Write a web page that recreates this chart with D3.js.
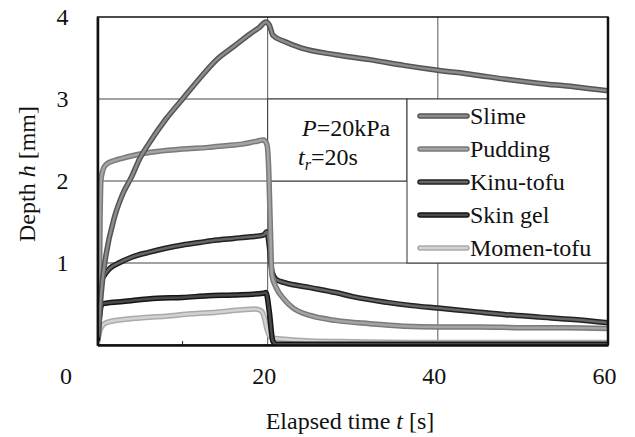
<!DOCTYPE html>
<html>
<head>
<meta charset="utf-8">
<script src="https://cdn.jsdelivr.net/npm/d3@7"></script>
<style>
  body { margin: 0; background: #fff; }
  svg text { font-family: "Liberation Serif", "Times New Roman", serif !important; fill: #111; }
</style>
</head>
<body>
<div id="chart"></div>
<script>
/* DATA */
const seriesNames = ['Slime', 'Pudding', 'Kinu-tofu', 'Skin gel', 'Momen-tofu'];
const xTicks = [0, 20, 40, 60];
const yTicks = [1, 2, 3, 4];

// [t (s), h (mm)]
const slime = [[0.1, 0.1], [0.3, 0.45], [0.6, 0.8], [1, 1.1], [2, 1.56], [3, 1.85], [4, 2.05], [5, 2.28],
  [6, 2.45], [8, 2.75], [10, 3.0], [12, 3.25], [14, 3.48], [16, 3.64], [18, 3.8], [19, 3.87], [19.8, 3.94],
  [20.2, 3.9], [20.6, 3.78], [22, 3.7], [24, 3.62], [28, 3.54], [32, 3.48], [36, 3.41], [40, 3.35],
  [44, 3.3], [48, 3.24], [52, 3.19], [56, 3.15], [60, 3.1]];
const pudding = [[0, 0.1], [0.2, 0.5], [0.3, 1.5], [0.4, 2.0], [0.6, 2.12], [1, 2.2], [2, 2.25], [3, 2.28],
  [5, 2.33], [7, 2.36], [10, 2.39], [13, 2.41], [15, 2.43], [17, 2.45], [18.5, 2.48], [19.5, 2.5],
  [19.9, 2.45], [20.1, 2.2], [20.3, 1.5], [20.5, 0.85], [21, 0.7], [22, 0.55], [23, 0.45], [25, 0.36],
  [28, 0.3], [32, 0.26], [36, 0.23], [40, 0.22], [45, 0.22], [50, 0.21], [55, 0.21], [60, 0.2]];
const kinuTofu = [[0, 0.1], [0.2, 0.5], [0.5, 0.78], [1, 0.88], [1.5, 0.94], [2.5, 1.0], [4, 1.07], [6, 1.13],
  [8, 1.18], [10, 1.22], [12, 1.25], [14, 1.28], [16, 1.3], [18, 1.32], [19.5, 1.34], [19.9, 1.38],
  [20.2, 1.2], [20.5, 0.9], [21, 0.8], [22, 0.76], [25, 0.7], [28, 0.64], [30, 0.59], [34, 0.52],
  [37, 0.48], [40, 0.45], [44, 0.41], [48, 0.37], [52, 0.34], [56, 0.31], [60, 0.27]];
const skinGel = [[0, 0.05], [0.2, 0.3], [0.5, 0.5], [1, 0.51], [3, 0.53], [7, 0.57], [10, 0.58], [13, 0.6],
  [16, 0.61], [19.5, 0.63], [19.8, 0.64], [20.2, 0.4], [20.6, 0.05], [21, 0.01], [60, 0.01]];
const momenTofu = [[0, 0.02], [0.2, 0.15], [0.6, 0.24], [1, 0.27], [3, 0.31], [5, 0.33], [8, 0.35],
  [11, 0.38], [14, 0.4], [17, 0.43], [18.5, 0.44], [19.2, 0.42], [19.6, 0.34], [19.9, 0.2], [20.4, 0.09],
  [22, 0.07], [25, 0.05], [30, 0.04], [40, 0.03], [60, 0.03]];

const seriesData = [slime, pudding, kinuTofu, skinGel, momenTofu];
const outerColors = ['#555', '#7a7a7a', '#222', '#151515', '#aaa'];
const innerColors = ['#8c8c8c', '#a4a4a4', '#666', '#4a4a4a', '#d2d2d2'];

/* LAYOUT */
const W = 635, H = 437;
const plotLeft = 97.5, plotRight = 608, plotTop = 17, plotBottom = 345;
const serif = '"Liberation Serif", "Times New Roman", serif';

const svg = d3.select('#chart').append('svg')
  .attr('width', W)
  .attr('height', H)
  .style('font-family', serif);

const x = d3.scaleLinear().domain([0, 60]).range([plotLeft, plotRight]);
const y = d3.scaleLinear().domain([0, 4]).range([plotBottom, plotTop]);

// gridlines
svg.append('g')
  .selectAll('line')
  .data(yTicks.slice(0, 3))
  .join('line')
  .attr('x1', plotLeft).attr('x2', plotRight)
  .attr('y1', d => y(d)).attr('y2', d => y(d))
  .attr('stroke', '#444').attr('stroke-width', 1);

svg.append('g')
  .selectAll('line')
  .data([20, 40])
  .join('line')
  .attr('x1', d => x(d)).attr('x2', d => x(d))
  .attr('y1', plotTop).attr('y2', plotBottom)
  .attr('stroke', '#555').attr('stroke-width', 1);

// minor ticks on x axis
svg.append('g')
  .selectAll('line')
  .data([10, 30, 50])
  .join('line')
  .attr('x1', d => x(d)).attr('x2', d => x(d))
  .attr('y1', plotBottom).attr('y2', plotBottom - 4)
  .attr('stroke', '#222');

// frame
svg.append('rect')
  .attr('x', plotLeft).attr('y', plotTop)
  .attr('width', plotRight - plotLeft).attr('height', plotBottom - plotTop)
  .attr('fill', 'none').attr('stroke', '#111').attr('stroke-width', 1.5);

// annotation box and legend box (below the curves)
const annot = svg.append('g');
annot.append('rect')
  .attr('x', x(20)).attr('y', y(3))
  .attr('width', 407 - x(20)).attr('height', y(2) - y(3))
  .attr('fill', '#fff').attr('stroke', '#333').attr('stroke-width', 1);

const t1 = annot.append('text').attr('x', 302).attr('y', 136).style('font-size', '24px');
t1.append('tspan').style('font-style', 'italic').text('P');
t1.append('tspan').text('=20kPa');
const t2 = annot.append('text').attr('x', 298).attr('y', 165).style('font-size', '24px');
t2.append('tspan').style('font-style', 'italic').text('t');
t2.append('tspan').style('font-style', 'italic').style('font-size', '16px').attr('dy', 5).text('r');
t2.append('tspan').attr('dy', -5).text('=20s');

const legend = svg.append('g');
legend.append('rect')
  .attr('x', 407).attr('y', y(3))
  .attr('width', plotRight - 407).attr('height', y(1) - y(3))
  .attr('fill', '#fff').attr('stroke', '#333').attr('stroke-width', 1);

const item = legend.selectAll('g.item')
  .data(seriesNames)
  .join('g')
  .attr('class', 'item')
  .attr('transform', (d, i) => `translate(0, ${116 + i * 33})`);

item.append('line')
  .attr('x1', 420).attr('x2', 467)
  .attr('stroke', (d, i) => outerColors[i])
  .attr('stroke-width', 5.5).attr('stroke-linecap', 'round');
item.append('line')
  .attr('x1', 420).attr('x2', 467)
  .attr('stroke', (d, i) => innerColors[i])
  .attr('stroke-width', 2.5).attr('stroke-linecap', 'round');
item.append('text')
  .attr('x', 470).attr('y', 8)
  .style('font-size', '24px')
  .text(d => d);

// curves
svg.append('clipPath').attr('id', 'plot-clip')
  .append('rect')
  .attr('x', plotLeft).attr('y', plotTop - 5)
  .attr('width', plotRight - plotLeft).attr('height', plotBottom - plotTop + 5);

const line = d3.line()
  .x(d => x(d[0]))
  .y(d => y(d[1]))
  .curve(d3.curveMonotoneX);

const curves = svg.append('g').attr('clip-path', 'url(#plot-clip)');
// draw bottom series first so Slime/Pudding sit on top
[4, 3, 2, 1, 0].forEach(i => {
  curves.append('path')
    .attr('d', line(seriesData[i]))
    .attr('fill', 'none')
    .attr('stroke', outerColors[i])
    .attr('stroke-width', 5.5)
    .attr('stroke-linejoin', 'round');
  curves.append('path')
    .attr('d', line(seriesData[i]))
    .attr('fill', 'none')
    .attr('stroke', innerColors[i])
    .attr('stroke-width', 2.5)
    .attr('stroke-linejoin', 'round');
});

// axes
const xAxis = svg.append('g')
  .attr('transform', `translate(0, ${plotBottom})`)
  .call(d3.axisBottom(x).tickValues(xTicks).tickFormat(d3.format('d')).tickSize(0).tickPadding(22));
xAxis.attr('font-family', serif).attr('font-size', 24);
xAxis.select('.domain').attr('stroke', '#111').attr('stroke-width', 2.5);
xAxis.selectAll('text')
  .attr('dx', d => d === 0 ? -32 : -4);

const yAxis = svg.append('g')
  .attr('transform', `translate(${plotLeft}, 0)`)
  .call(d3.axisLeft(y).tickValues(yTicks).tickFormat(d3.format('d')).tickSize(0).tickPadding(29));
yAxis.attr('font-family', serif).attr('font-size', 24);
yAxis.select('.domain').attr('stroke', '#111').attr('stroke-width', 2.5);

// right border, thicker
svg.append('line')
  .attr('x1', plotRight).attr('x2', plotRight)
  .attr('y1', plotTop).attr('y2', plotBottom)
  .attr('stroke', '#111').attr('stroke-width', 2.5);

// axis titles
const xt = svg.append('text')
  .attr('x', 350).attr('y', 429)
  .attr('text-anchor', 'middle')
  .style('font-size', '24px');
xt.append('tspan').text('Elapsed time  ');
xt.append('tspan').style('font-style', 'italic').text('t');
xt.append('tspan').text(' [s]');

const yt = svg.append('text')
  .attr('transform', 'translate(35, 174) rotate(-90)')
  .attr('text-anchor', 'middle')
  .style('font-size', '24px');
yt.append('tspan').text('Depth  ');
yt.append('tspan').style('font-style', 'italic').text('h');
yt.append('tspan').text(' [mm]');
</script>
</body>
</html>
